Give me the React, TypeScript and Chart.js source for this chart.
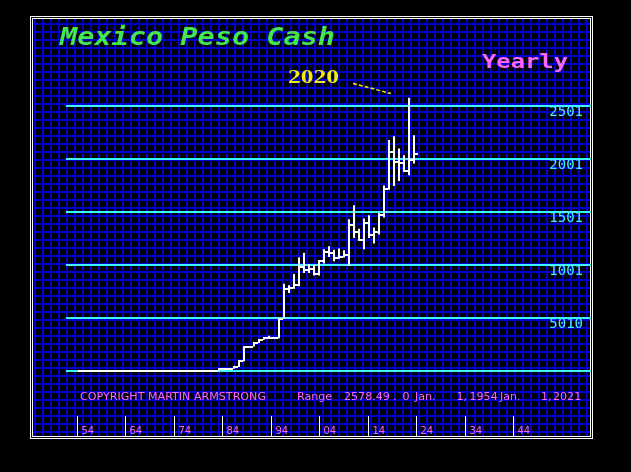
import React, { useEffect, useRef } from 'react';
import { Chart, registerables } from 'chart.js';

Chart.register(...registerables);

// ---------- data (pesos x100, yearly HLC) ----------
const years = [
  1954, 1955, 1956, 1957, 1958, 1959, 1960, 1961, 1962, 1963,
  1964, 1965, 1966, 1967, 1968, 1969, 1970, 1971, 1972, 1973,
  1974, 1975, 1976, 1977, 1978, 1979, 1980, 1981, 1982, 1983,
  1984, 1985, 1986, 1987, 1988, 1989, 1990, 1991, 1992, 1993,
  1994, 1995, 1996, 1997, 1998, 1999, 2000, 2001, 2002, 2003,
  2004, 2005, 2006, 2007, 2008, 2009, 2010, 2011, 2012, 2013,
  2014, 2015, 2016, 2017, 2018, 2019, 2020, 2021,
];
const highs = [
  1.25, 1.25, 1.25, 1.25, 1.25, 1.25, 1.25, 1.25, 1.25, 1.25,
  1.25, 1.25, 1.25, 1.25, 1.25, 1.25, 1.25, 1.25, 1.25, 1.25,
  1.25, 1.25, 2.0, 2.27, 2.28, 2.29, 2.33, 2.62, 14.9, 18,
  21, 37, 92, 228, 232, 264, 295, 308, 333, 316,
  494, 824, 810, 915, 1070, 1115, 1010, 1000, 1040, 1148,
  1176, 1145, 1155, 1139, 1431, 1563, 1343, 1438, 1469, 1353,
  1494, 1751, 2180, 2214, 2098, 2035, 2578.49, 2224,
];
const lows = [
  1.25, 1.25, 1.25, 1.25, 1.25, 1.25, 1.25, 1.25, 1.25, 1.25,
  1.25, 1.25, 1.25, 1.25, 1.25, 1.25, 1.25, 1.25, 1.25, 1.25,
  1.25, 1.25, 1.25, 2.0, 2.27, 2.27, 2.29, 2.33, 2.62, 14.9,
  18, 21, 37, 92, 228, 230, 264, 295, 305, 310,
  310, 494, 735, 777, 800, 925, 925, 900, 900, 1013,
  1075, 1035, 1060, 1070, 990, 1255, 1233, 1148, 1255, 1202,
  1287, 1447, 1711, 1745, 1792, 1877, 1846, 1957,
];
const closes = [
  1.25, 1.25, 1.25, 1.25, 1.25, 1.25, 1.25, 1.25, 1.25, 1.25,
  1.25, 1.25, 1.25, 1.25, 1.25, 1.25, 1.25, 1.25, 1.25, 1.25,
  1.25, 1.25, 2.0, 2.27, 2.27, 2.29, 2.33, 2.62, 14.9, 18,
  21, 37, 92, 228, 230, 264, 295, 308, 312, 311,
  494, 777, 787, 812, 985, 955, 960, 915, 1035, 1125,
  1115, 1065, 1080, 1090, 1380, 1310, 1240, 1395, 1285, 1310,
  1475, 1720, 2070, 1975, 1965, 1890, 1990, 2051,
];

const yTickValues = [0, 500, 1000, 1500, 2000, 2500];
const yTickLabels = ['', '5010', '1001', '1501', '2001', '2501'];

const xTickYears = [1954, 1964, 1974, 1984, 1994, 2004, 2014, 2024, 2034, 2044];
const xTickLabels = ['54', '64', '74', '84', '94', '04', '14', '24', '34', '44'];

const titleText = 'Mexico Peso Cash';
const periodText = 'Yearly';
const annotationText = '2020';
const footerPieces: [string, number][] = [
  ['COPYRIGHT MARTIN ARMSTRONG', 80],
  ['Range', 297],
  ['2578.49', 344],
  ['.', 393],
  ['0', 402.5],
  ['Jan.', 415],
  ['1,', 456.5],
  ['1954', 469.5],
  ['Jan.', 500],
  ['1,', 541],
  ['2021', 553],
];

// ---------- colours ----------
const GRID_BLUE = '#0000cc';
const CYAN = '#40f4ff';
const PINK = '#ff66ff';
const GREEN = '#44e650';
const YELLOW = '#f4ec10';

function drawFit(ctx: CanvasRenderingContext2D, text: string, x: number, y: number, font: string, color: string, width?: number, sx?: number) {
  ctx.save();
  ctx.font = font;
  ctx.fillStyle = color;
  ctx.textAlign = 'left';
  ctx.textBaseline = 'alphabetic';
  const w = ctx.measureText(text).width;
  const s = width ? width / w : (sx || 1);
  ctx.translate(x, y);
  ctx.scale(s, 1);
  ctx.fillText(text, 0, 0);
  ctx.restore();
}

const decoPlugin = {
  id: 'deco',
  beforeDraw(chart: any) {
    const ctx: CanvasRenderingContext2D = chart.ctx;
    ctx.save();
    ctx.fillStyle = '#000';
    ctx.fillRect(0, 0, chart.width, chart.height);
    ctx.strokeStyle = GRID_BLUE;
    ctx.lineWidth = 2;
    ctx.beginPath();
    for (let x = 35; x < 591; x += 8) {
      ctx.moveTo(x, 18);
      ctx.lineTo(x, 437);
    }
    for (let y = 24; y < 437; y += 8) {
      ctx.moveTo(33, y);
      ctx.lineTo(591, y);
    }
    ctx.stroke();
    ctx.strokeStyle = '#ffffff';
    ctx.lineWidth = 1;
    ctx.strokeRect(30.5, 16.5, 562, 422);
    ctx.strokeRect(32.5, 18.5, 558, 418);
    ctx.restore();
  },
  afterDraw(chart: any) {
    const ctx: CanvasRenderingContext2D = chart.ctx;
    const xt = chart.scales.xt;
    ctx.save();
    ctx.beginPath();
    ctx.rect(33, 19, 557, 417);
    ctx.clip();

    // title texts
    drawFit(ctx, titleText, 60, 45, 'italic bold 24px "DejaVu Sans Mono"', GREEN, 275);
    drawFit(ctx, periodText, 482, 68, 'bold 20px "DejaVu Sans Mono"', PINK, 86);
    drawFit(ctx, annotationText, 288, 83, 'bold 18px "Liberation Serif"', YELLOW, 51);

    // pointer line
    ctx.strokeStyle = YELLOW;
    ctx.lineWidth = 1.5;
    ctx.setLineDash([4, 2]);
    ctx.beginPath();
    ctx.moveTo(353, 83.5);
    ctx.lineTo(391, 93.5);
    ctx.stroke();
    ctx.setLineDash([]);

    // footer
    for (const [t, x] of footerPieces) {
      drawFit(ctx, t, x, 400, '10px "DejaVu Sans"', PINK, undefined, 1.11);
    }

    // bottom time axis
    ctx.strokeStyle = '#ffffff';
    ctx.lineWidth = 1;
    ctx.beginPath();
    xTickYears.forEach((yr) => {
      const px = Math.floor(xt.getPixelForValue(yr)) + 0.5;
      ctx.moveTo(px, 416);
      ctx.lineTo(px, 437);
    });
    ctx.stroke();
    xTickYears.forEach((yr, i) => {
      const px = Math.floor(xt.getPixelForValue(yr));
      drawFit(ctx, xTickLabels[i], px + 4.5, 433.5, '10px "DejaVu Sans"', PINK, undefined, 1.0);
    });
    ctx.restore();
  },
};

export default function App() {
  const ref = useRef<HTMLCanvasElement | null>(null);
  useEffect(() => {
    const canvas = ref.current;
    if (!canvas) return;

    // close mark: spans the bar column and extends 3px to the right
    const tick = document.createElement('canvas');
    tick.width = 8;
    tick.height = 2;
    const tctx = tick.getContext('2d')!;
    tctx.fillStyle = '#ffffff';
    tctx.fillRect(3, 0, 5, 2);

    const chart = new Chart(canvas, {
      type: 'bar',
      data: {
        datasets: [
          {
            type: 'bar',
            label: 'High-Low',
            data: years.map((yr, i) => ({ x: yr, y: [lows[i], highs[i]] })) as any,
            backgroundColor: '#ffffff',
            borderWidth: 0,
            barThickness: 2,
            inflateAmount: 0,
            grouped: false,
            xAxisID: 'x',
            yAxisID: 'y',
          } as any,
          {
            type: 'scatter',
            label: 'Close',
            data: years.map((yr, i) => ({ x: yr, y: closes[i] })),
            pointStyle: tick as any,
            pointRadius: 2,
            pointHoverRadius: 2,
            xAxisID: 'x',
            yAxisID: 'y',
          } as any,
        ],
      },
      options: {
        responsive: false,
        animation: false,
        devicePixelRatio: 1,
        events: [],
        layout: { padding: { left: 66, top: 17, right: 40, bottom: 35 } },
        plugins: {
          legend: { display: false },
          tooltip: { enabled: false },
          title: { display: false },
        },
        scales: {
          x: {
            type: 'linear',
            display: false,
            offset: false,
            min: 1951.4,
            max: 2056.4,
          },
          xt: {
            type: 'linear',
            axis: 'x',
            display: false,
            offset: false,
            min: 1951.626,
            max: 2060.01,
          },
          y: {
            type: 'linear',
            position: 'right',
            min: -622.6,
            max: 3339.6,
            afterFit: (scale: any) => {
              scale.width = 0;
            },
            afterBuildTicks: (scale: any) => {
              scale.ticks = yTickValues.map((v) => ({ value: v }));
            },
            border: { display: false },
            grid: { color: CYAN, lineWidth: 2, drawTicks: false },
            ticks: {
              mirror: true,
              padding: -8,
              labelOffset: 6,
              color: CYAN,
              font: { family: '"DejaVu Sans Mono"', size: 14 },
              callback: (v: any) => {
                const i = yTickValues.indexOf(Number(v));
                return i >= 0 ? yTickLabels[i] : '';
              },
            },
          },
        } as any,
      },
      plugins: [decoPlugin],
    });
    return () => chart.destroy();
  }, []);

  return (
    <div style={{ position: 'fixed', left: 0, top: 0, width: 631, height: 472, background: '#000' }}>
      <canvas ref={ref} width={631} height={472} style={{ display: 'block' }} />
    </div>
  );
}
